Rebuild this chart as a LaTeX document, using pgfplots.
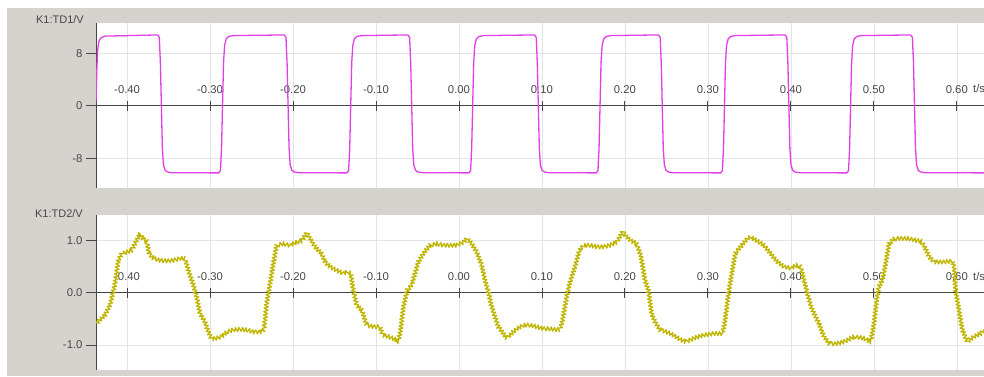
\documentclass[border=0pt]{standalone}
\usepackage{pgfplots}
\pgfplotsset{compat=1.18}
\usepackage{fontspec}
\setmainfont{Liberation Sans}
\usetikzlibrary{decorations.pathmorphing}
\definecolor{bgray}{RGB}{214,211,206}
\definecolor{txt}{RGB}{72,72,72}
\definecolor{axc}{RGB}{70,70,70}
\definecolor{gridc}{RGB}{228,228,228}
\definecolor{mag}{RGB}{226,62,232}
\definecolor{yel}{RGB}{192,182,0}
\pgfplotsset{
  osc/.style={
    scale only axis, width=888pt, xmin=-0.4375, xmax=0.6328,
    axis background/.style={fill=white},
    axis x line=middle, axis y line=left,
    axis line style={axc, line width=0.9pt, -},
    hide obscured x ticks=false, hide obscured y ticks=false,
    xtick={-0.4,-0.3,-0.2,-0.1,0,0.1,0.2,0.3,0.4,0.5,0.6},
    xticklabels={-0.40,-0.30,-0.20,-0.10,0.00,0.10,0.20,0.30,0.40,0.50,0.60},
    xtick align=center, ytick align=outside,
    major tick length=10pt,
    tick style={axc, line width=0.9pt},
    grid=major, grid style={gridc, line width=0.6pt},
    xticklabel style={anchor=base, yshift=17.5pt, font=\fontsize{11.3}{13}\selectfont, text=txt, inner sep=0pt},
    yticklabel style={font=\fontsize{11.3}{13}\selectfont, text=txt},
    clip=true,
  }
}
\begin{document}
\begin{tikzpicture}[x=1pt,y=1pt]
\fill[white] (0,0) rectangle (984,376);
\fill[bgray] (7,0) rectangle (984,368);
% top panel
\begin{axis}[osc, at={(96pt,187.7pt)}, anchor=south west, height=165.3pt,
  ymin=-12.6, ymax=12.6, ytick={-8,0,8}, yticklabels={-8,0,8}]
\addplot[mag, line width=1.3pt, line join=round] coordinates {
(-0.4375,0.5) (-0.4365,5.5) (-0.4355,8.5) (-0.4340,9.8) (-0.4315,10.35) (-0.4270,10.6)
(-0.3632,10.78) (-0.3612,10.4) (-0.3599,6.5) (-0.3587,0) (-0.3575,-6.5) (-0.3562,-9.0) (-0.3542,-9.85) (-0.3512,-10.12) (-0.3457,-10.22)
(-0.2895,-10.25) (-0.2875,-9.9) (-0.2862,-6.5) (-0.2850,0) (-0.2838,6.5) (-0.2825,9.2) (-0.2805,10.2) (-0.2775,10.55) (-0.2720,10.68)
(-0.2105,10.78) (-0.2085,10.4) (-0.2072,6.5) (-0.2060,0) (-0.2048,-6.5) (-0.2035,-9.0) (-0.2015,-9.85) (-0.1985,-10.12) (-0.1930,-10.22)
(-0.1350,-10.25) (-0.1330,-9.9) (-0.1317,-6.5) (-0.1305,0) (-0.1293,6.5) (-0.1280,9.2) (-0.1260,10.2) (-0.1230,10.55) (-0.1175,10.68)
(-0.0615,10.78) (-0.0595,10.4) (-0.0582,6.5) (-0.0570,0) (-0.0558,-6.5) (-0.0545,-9.0) (-0.0525,-9.85) (-0.0495,-10.12) (-0.0440,-10.22)
(0.0120,-10.25) (0.0140,-9.9) (0.0153,-6.5) (0.0165,0) (0.0177,6.5) (0.0190,9.2) (0.0210,10.2) (0.0240,10.55) (0.0295,10.68)
(0.0911,10.78) (0.0931,10.4) (0.0944,6.5) (0.0956,0) (0.0968,-6.5) (0.0981,-9.0) (0.1001,-9.85) (0.1031,-10.12) (0.1086,-10.22)
(0.1655,-10.25) (0.1675,-9.9) (0.1688,-6.5) (0.1700,0) (0.1712,6.5) (0.1725,9.2) (0.1745,10.2) (0.1775,10.55) (0.1830,10.68)
(0.2405,10.78) (0.2425,10.4) (0.2438,6.5) (0.2450,0) (0.2462,-6.5) (0.2475,-9.0) (0.2495,-9.85) (0.2525,-10.12) (0.2580,-10.22)
(0.3155,-10.25) (0.3175,-9.9) (0.3188,-6.5) (0.3200,0) (0.3212,6.5) (0.3225,9.2) (0.3245,10.2) (0.3275,10.55) (0.3330,10.68)
(0.3931,10.78) (0.3951,10.4) (0.3964,6.5) (0.3976,0) (0.3988,-6.5) (0.4001,-9.0) (0.4021,-9.85) (0.4051,-10.12) (0.4106,-10.22)
(0.4675,-10.25) (0.4695,-9.9) (0.4708,-6.5) (0.4720,0) (0.4732,6.5) (0.4745,9.2) (0.4765,10.2) (0.4795,10.55) (0.4850,10.68)
(0.5445,10.78) (0.5465,10.4) (0.5478,6.5) (0.5490,0) (0.5502,-6.5) (0.5515,-9.0) (0.5535,-9.85) (0.5565,-10.12) (0.5620,-10.22)
(0.6328,-10.25)
};
\end{axis}
% bottom panel
\begin{axis}[osc, at={(96pt,6pt)}, anchor=south west, height=155pt,
  ymin=-1.48, ymax=1.49, ytick={-1,0,1}, yticklabels={-1.0,0.0,1.0}]
\addplot[yel, line width=1.3pt, line join=round, decorate,
  decoration={zigzag, amplitude=2pt, segment length=3.4pt}] coordinates {
(-0.4375,-0.59) (-0.4267,-0.43) (-0.4206,-0.24) (-0.4146,0.17) (-0.4106,0.62) (-0.4066,0.75)
(-0.4005,0.78) (-0.3945,0.81) (-0.3905,0.94) (-0.3845,1.13) (-0.3805,1.03) (-0.3764,0.99)
(-0.3736,0.75) (-0.3684,0.66) (-0.3604,0.62) (-0.3523,0.61) (-0.3443,0.62) (-0.3363,0.66)
(-0.3302,0.66) (-0.3262,0.43) (-0.3202,0.15) (-0.3162,-0.08) (-0.3122,-0.40) (-0.3061,-0.56)
(-0.3021,-0.75) (-0.2981,-0.89) (-0.2921,-0.87) (-0.2860,-0.84) (-0.2800,-0.75) (-0.2720,-0.71)
(-0.2640,-0.70) (-0.2559,-0.71) (-0.2479,-0.75) (-0.2378,-0.75) (-0.2350,-0.71) (-0.2318,-0.20)
(-0.2278,0.17) (-0.2238,0.56) (-0.2198,0.91) (-0.2117,0.94) (-0.2037,0.91) (-0.1956,0.97)
(-0.1896,0.99) (-0.1836,1.15) (-0.1776,0.99) (-0.1736,0.88) (-0.1695,0.81) (-0.1655,0.75)
(-0.1615,0.59) (-0.1555,0.50) (-0.1474,0.43) (-0.1394,0.37) (-0.1334,0.40) (-0.1306,0.37)
(-0.1274,0.05) (-0.1233,-0.24) (-0.1173,-0.33) (-0.1113,-0.62) (-0.1033,-0.65) (-0.0952,-0.65)
(-0.0920,-0.81) (-0.0852,-0.84) (-0.0771,-0.89) (-0.0731,-0.94) (-0.0703,-0.71) (-0.0671,-0.27)
(-0.0623,0.05) (-0.0570,0.15) (-0.0490,0.59) (-0.0430,0.75) (-0.0350,0.91) (-0.0269,0.94)
(-0.0189,0.91) (-0.0108,0.91) (-0.0028,0.91) (0.0052,0.97) (0.0100,1.04) (0.0153,0.94)
(0.0213,0.78) (0.0273,0.53) (0.0313,0.24) (0.0354,0.02) (0.0394,-0.27) (0.0434,-0.46)
(0.0474,-0.65) (0.0534,-0.78) (0.0575,-0.87) (0.0635,-0.78) (0.0695,-0.69) (0.0775,-0.62)
(0.0856,-0.62) (0.0936,-0.65) (0.1016,-0.69) (0.1097,-0.69) (0.1177,-0.71) (0.1217,-0.71)
(0.1245,-0.55) (0.1298,-0.08) (0.1338,0.21) (0.1398,0.50) (0.1451,0.81) (0.1499,0.91)
(0.1579,0.91) (0.1660,0.88) (0.1740,0.88) (0.1820,0.91) (0.1901,0.97) (0.1973,1.17)
(0.2021,1.07) (0.2081,0.99) (0.2141,0.94) (0.2190,0.72) (0.2242,0.24) (0.2282,0.05)
(0.2322,-0.40) (0.2362,-0.56) (0.2422,-0.71) (0.2551,-0.78) (0.2672,-0.90) (0.2732,-0.94)
(0.2832,-0.87) (0.2953,-0.81) (0.3073,-0.78) (0.3174,-0.78) (0.3202,-0.59) (0.3254,0.05)
(0.3294,0.43) (0.3335,0.78) (0.3395,0.88) (0.3475,1.04) (0.3515,1.07) (0.3596,0.99)
(0.3676,0.91) (0.3756,0.75) (0.3837,0.59) (0.3917,0.50) (0.3997,0.47) (0.4078,0.53)
(0.4118,0.50) (0.4158,0.24) (0.4198,-0.01) (0.4239,-0.24) (0.4279,-0.40) (0.4339,-0.59)
(0.4399,-0.84) (0.4459,-0.97) (0.4520,-0.98) (0.4640,-0.94) (0.4761,-0.84) (0.4881,-0.87)
(0.4962,-0.94) (0.5002,-0.59) (0.5034,-0.14) (0.5062,0.12) (0.5102,0.24) (0.5143,0.56)
(0.5183,0.94) (0.5243,1.04) (0.5404,1.04) (0.5564,0.99) (0.5604,0.91) (0.5665,0.69)
(0.5725,0.59) (0.5846,0.59) (0.5946,0.61) (0.5966,0.50) (0.5986,0.05) (0.6026,-0.33)
(0.6066,-0.71) (0.6127,-0.94) (0.6207,-0.84) (0.6287,-0.78) (0.6328,-0.71)
};
\end{axis}
\node[anchor=east, text=txt, font=\fontsize{11}{13}\selectfont, inner sep=0pt] at (84,356) {K1:TD1/V};
\node[anchor=east, text=txt, font=\fontsize{11}{13}\selectfont, inner sep=0pt] at (83,162.7) {K1:TD2/V};
\node[anchor=base west, text=txt, font=\fontsize{11.3}{13}\selectfont, inner sep=0pt] at (973,283.3) {t/s};
\node[anchor=base west, text=txt, font=\fontsize{11.3}{13}\selectfont, inner sep=0pt] at (973,95.3) {t/s};
\pgfresetboundingbox
\useasboundingbox (0,0) rectangle (984,376);
\end{tikzpicture}
\end{document}
